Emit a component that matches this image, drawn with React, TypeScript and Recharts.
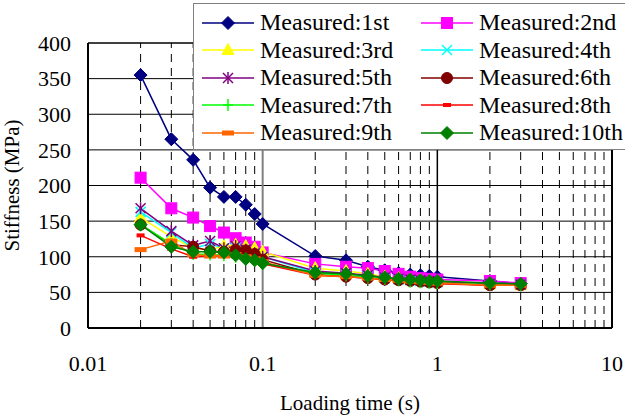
import React from "react"
import { LineChart, Line, XAxis, YAxis, CartesianGrid, ReferenceLine, Legend } from "recharts"

const times = [0.02, 0.03, 0.04, 0.05, 0.06, 0.07, 0.08, 0.09, 0.1, 0.2, 0.3, 0.4, 0.5, 0.6, 0.7, 0.8, 0.9, 1, 2, 3]

const m1 = [355, 265, 236, 197, 184, 184, 173, 160, 146, 101, 95, 86, 81, 77, 75, 74, 73, 72, 66, 62]
const m2 = [211, 168, 155, 143, 134, 126, 120, 114, 106, 90, 86, 84, 80, 76, 72, 70, 69, 68, 66, 63]
const m3 = [155, 128, 112, 110, 115, 117, 115, 112, 107, 84, 80, 76, 72, 70, 68, 67, 66, 65, 61, 60]
const m4 = [163, 134, 112, 118, 112, 113, 110, 105, 100, 78, 76, 73, 70, 68, 67, 66, 65, 64, 62, 61]
const m5 = [168, 136, 116, 122, 112, 115, 110, 105, 100, 80, 77, 74, 71, 69, 68, 67, 66, 65, 62, 61]
const m6 = [145, 117, 114, 108, 107, 110, 109, 104, 96, 75, 72, 70, 68, 67, 66, 65, 64, 63, 60, 60]
const m7 = [145, 118, 104, 103, 102, 100, 97, 95, 90, 77, 74, 71, 69, 67, 65, 64, 63, 63, 61, 60]
const m8 = [130, 111, 100, 101, 101, 100, 97, 94, 90, 74, 72, 70, 68, 66, 65, 64, 63, 62, 60, 60]
const m9 = [110, 122, 103, 101, 101, 103, 100, 97, 93, 74, 72, 70, 68, 67, 66, 65, 64, 63, 60, 60]
const m10 = [145, 114, 107, 107, 106, 102, 97, 95, 91, 78, 76, 73, 71, 69, 68, 67, 66, 66, 63, 62]

const xTicks = [0.01, 0.1, 1, 10]
const yTicks = [0, 50, 100, 150, 200, 250, 300, 350, 400]
const dashedX = [0.02, 0.03, 0.04, 0.05, 0.06, 0.07, 0.08, 0.09, 0.2, 0.3, 0.4, 0.5, 0.6, 0.7, 0.8, 0.9, 2, 3, 4, 5, 6, 7, 8, 9]

const series = [
  { key: "s1", name: "Measured:1st", values: m1, color: "#000080", shape: "diamond" },
  { key: "s2", name: "Measured:2nd", values: m2, color: "#FF00FF", shape: "square" },
  { key: "s3", name: "Measured:3rd", values: m3, color: "#FFFF00", shape: "triangle" },
  { key: "s4", name: "Measured:4th", values: m4, color: "#00FFFF", shape: "x" },
  { key: "s5", name: "Measured:5th", values: m5, color: "#800080", shape: "star" },
  { key: "s6", name: "Measured:6th", values: m6, color: "#800000", shape: "circle" },
  { key: "s7", name: "Measured:7th", values: m7, color: "#00FF00", shape: "plus" },
  { key: "s8", name: "Measured:8th", values: m8, color: "#FF0000", shape: "shortdash" },
  { key: "s9", name: "Measured:9th", values: m9, color: "#FF6600", shape: "dash" },
  { key: "s10", name: "Measured:10th", values: m10, color: "#008000", shape: "diamond" },
]

const data = times.map((t, i) => {
  const row: Record<string, number> = { t }
  series.forEach((s) => (row[s.key] = s.values[i]))
  return row
})

const FONT = "'Liberation Serif', 'Times New Roman', serif"

function Mark({ shape, color, cx, cy }: { shape: string; color: string; cx: number; cy: number }) {
  if (cx == null || cy == null) return null
  switch (shape) {
    case "diamond":
      return <polygon points={`${cx},${cy - 6.5} ${cx + 6.5},${cy} ${cx},${cy + 6.5} ${cx - 6.5},${cy}`} fill={color} stroke={color} />
    case "square":
      return <rect x={cx - 5.5} y={cy - 5.5} width={11} height={11} fill={color} stroke={color} />
    case "triangle":
      return <polygon points={`${cx},${cy - 6.5} ${cx + 6},${cy + 4.5} ${cx - 6},${cy + 4.5}`} fill={color} stroke={color} />
    case "x":
      return (
        <g stroke={color} strokeWidth={1.5}>
          <line x1={cx - 5} y1={cy - 5} x2={cx + 5} y2={cy + 5} />
          <line x1={cx - 5} y1={cy + 5} x2={cx + 5} y2={cy - 5} />
        </g>
      )
    case "star":
      return (
        <g stroke={color} strokeWidth={1.5}>
          <line x1={cx - 5} y1={cy - 5} x2={cx + 5} y2={cy + 5} />
          <line x1={cx - 5} y1={cy + 5} x2={cx + 5} y2={cy - 5} />
          <line x1={cx} y1={cy - 6} x2={cx} y2={cy + 6} />
        </g>
      )
    case "circle":
      return <circle cx={cx} cy={cy} r={5.5} fill={color} stroke={color} />
    case "plus":
      return (
        <g stroke={color} strokeWidth={1.5}>
          <line x1={cx - 5} y1={cy} x2={cx + 5} y2={cy} />
          <line x1={cx} y1={cy - 6} x2={cx} y2={cy + 6} />
        </g>
      )
    case "shortdash":
      return <rect x={cx - 4} y={cy - 2} width={8} height={4} fill={color} />
    case "dash":
      return <rect x={cx - 6} y={cy - 2.5} width={12} height={5} fill={color} />
    default:
      return null
  }
}

function LegendBox() {
  return (
    <div
      style={{
        border: "1.5px solid #808080",
        background: "#fff",
        width: 440,
        height: 147,
        boxSizing: "border-box",
        padding: "5px 0 0 0",
        display: "grid",
        gridTemplateColumns: "219px 219px",
        gridAutoRows: "27.5px",
        fontFamily: FONT,
        fontSize: 24,
        color: "#000",
      }}
    >
      {series.map((s) => (
        <div key={s.key} style={{ display: "flex", alignItems: "center", paddingLeft: 8 }}>
          <svg width={52} height={20} style={{ marginRight: 6 }}>
            <line x1={0} y1={10} x2={52} y2={10} stroke={s.color} strokeWidth={1.5} />
            <Mark shape={s.shape} color={s.color} cx={26} cy={10} />
          </svg>
          <span style={{ lineHeight: "27px", whiteSpace: "nowrap" }}>{s.name}</span>
        </div>
      ))}
    </div>
  )
}

export default function App() {
  return (
    <div style={{ position: "absolute", left: 0, top: 0, width: 625, height: 417, overflow: "hidden", background: "#fff" }}>
      <LineChart width={625} height={417} data={data} margin={{ top: 43, right: 13, bottom: 0, left: 0 }}>
        <CartesianGrid vertical={false} stroke="#000" strokeWidth={1} horizontalValues={[50, 100, 150, 200, 250, 300, 350]} />
        {dashedX.map((v) => (
          <ReferenceLine key={v} x={v} stroke="#000" strokeDasharray="8 6" strokeWidth={1} />
        ))}
        <ReferenceLine x={0.1} stroke="#808080" strokeWidth={2} />
        <ReferenceLine x={1} stroke="#000" strokeWidth={1.5} />
        <ReferenceLine y={400} stroke="#000" strokeWidth={1.5} />
        <ReferenceLine x={10} stroke="#000" strokeWidth={2} />
        <XAxis
          dataKey="t"
          type="number"
          scale="log"
          domain={[0.01, 10]}
          ticks={xTicks}
          allowDataOverflow
          height={89}
          stroke="#000"
          strokeWidth={2}
          tickLine={false}
          tickMargin={21}
          tick={{ fill: "#000", fontSize: 22, fontFamily: FONT }}
          tickFormatter={(v) => String(v)}
          label={{ value: "Loading time (s)", position: "insideBottom", offset: 7, fill: "#000", fontSize: 21, fontFamily: FONT }}
        />
        <YAxis
          type="number"
          domain={[0, 400]}
          ticks={yTicks}
          width={88}
          stroke="#000"
          strokeWidth={2}
          tickLine={false}
          tickMargin={11}
          tick={{ fill: "#000", fontSize: 22, fontFamily: FONT }}
          label={{ value: "Stiffness (MPa)", angle: -90, position: "insideLeft", offset: 12, fill: "#000", fontSize: 21, fontFamily: FONT, style: { textAnchor: "middle" } }}
        />
        {series.map((s) => (
          <Line
            key={s.key}
            dataKey={s.key}
            name={s.name}
            type="linear"
            stroke={s.color}
            strokeWidth={1.5}
            isAnimationActive={false}
            dot={(p: any) => (
              <g key={`${s.key}-${p.index}`}>
                <Mark shape={s.shape} color={s.color} cx={p.cx} cy={p.cy} />
              </g>
            )}
            activeDot={false}
          />
        ))}
        <Legend
          layout="horizontal"
          verticalAlign="middle"
          align="center"
          content={() => <LegendBox />}
          wrapperStyle={{ position: "absolute", left: 193, top: 3, width: 440, height: 147 }}
        />
      </LineChart>
    </div>
  )
}
